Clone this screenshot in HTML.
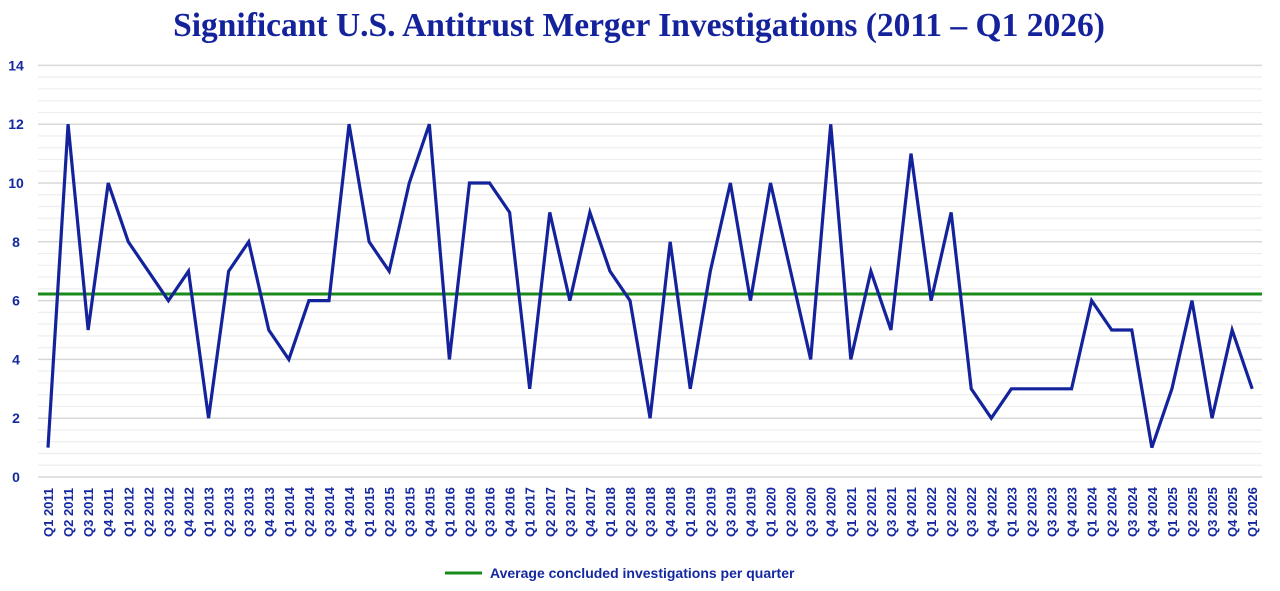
<!DOCTYPE html>
<html><head><meta charset="utf-8"><style>
html,body{margin:0;padding:0;background:#fff;}
svg{display:block;}
</style></head><body>
<svg width="1280" height="591" viewBox="0 0 1280 591" xmlns="http://www.w3.org/2000/svg">
<text x="639" y="36" text-anchor="middle" font-family="Liberation Serif, serif" font-weight="bold" font-size="33.5" fill="#14239c">Significant U.S. Antitrust Merger Investigations (2011 – Q1 2026)</text>
<g id="grid"></g>
<g id="ylab" font-family="Liberation Sans, sans-serif" font-size="14" font-weight="bold" fill="#1428a0" text-anchor="middle"></g>
<g id="xlab" font-family="Liberation Sans, sans-serif" font-size="13" font-weight="bold" fill="#1428a0"></g>
<line x1="38" y1="294" x2="1262" y2="294" stroke="#1a8a1a" stroke-width="3"/>
<polyline id="ser" fill="none" stroke="#14239c" stroke-width="3.2" stroke-linejoin="miter"/>
<line x1="445" y1="573" x2="482" y2="573" stroke="#1a8a1a" stroke-width="3"/>
<text x="490" y="578" font-family="Liberation Sans, sans-serif" font-size="14" font-weight="bold" fill="#1428a0">Average concluded investigations per quarter</text>
</svg>
<script>
var ns="http://www.w3.org/2000/svg";
function y(v){return 477-v*29.4;}
var g=document.getElementById("grid");
for(var i=0;i<=35;i++){var v=i*0.4;var l=document.createElementNS(ns,"line");
l.setAttribute("x1",38);l.setAttribute("x2",1262);l.setAttribute("y1",y(v));l.setAttribute("y2",y(v));
var major=(i%5==0);l.setAttribute("stroke",major?"#d8d8d8":"#eeeeee");l.setAttribute("stroke-width",major?1.5:1.2);g.appendChild(l);}
var yl=document.getElementById("ylab");
for(var v=0;v<=14;v+=2){var t=document.createElementNS(ns,"text");t.setAttribute("x",16);t.setAttribute("y",y(v)+5);t.textContent=v;yl.appendChild(t);}
var d=[1,12,5,10,8,7,6,7,2,7,8,5,4,6,6,12,8,7,10,12,4,10,10,9,3,9,6,9,7,6,2,8,3,7,10,6,10,7,4,12,4,7,5,11,6,9,3,2,3,3,3,3,6,5,5,1,3,6,2,5,3];
var pts=[],xl=document.getElementById("xlab");
for(var i=0;i<d.length;i++){var x=48+i*20.07;pts.push(x+","+y(d[i]));
var yr=2011+Math.floor(i/4),q=i%4+1;var t=document.createElementNS(ns,"text");
t.setAttribute("transform","translate("+(x+5)+",537) rotate(-90)");t.textContent="Q"+q+" "+yr;xl.appendChild(t);}
document.getElementById("ser").setAttribute("points",pts.join(" "));
</script>
</body></html>
